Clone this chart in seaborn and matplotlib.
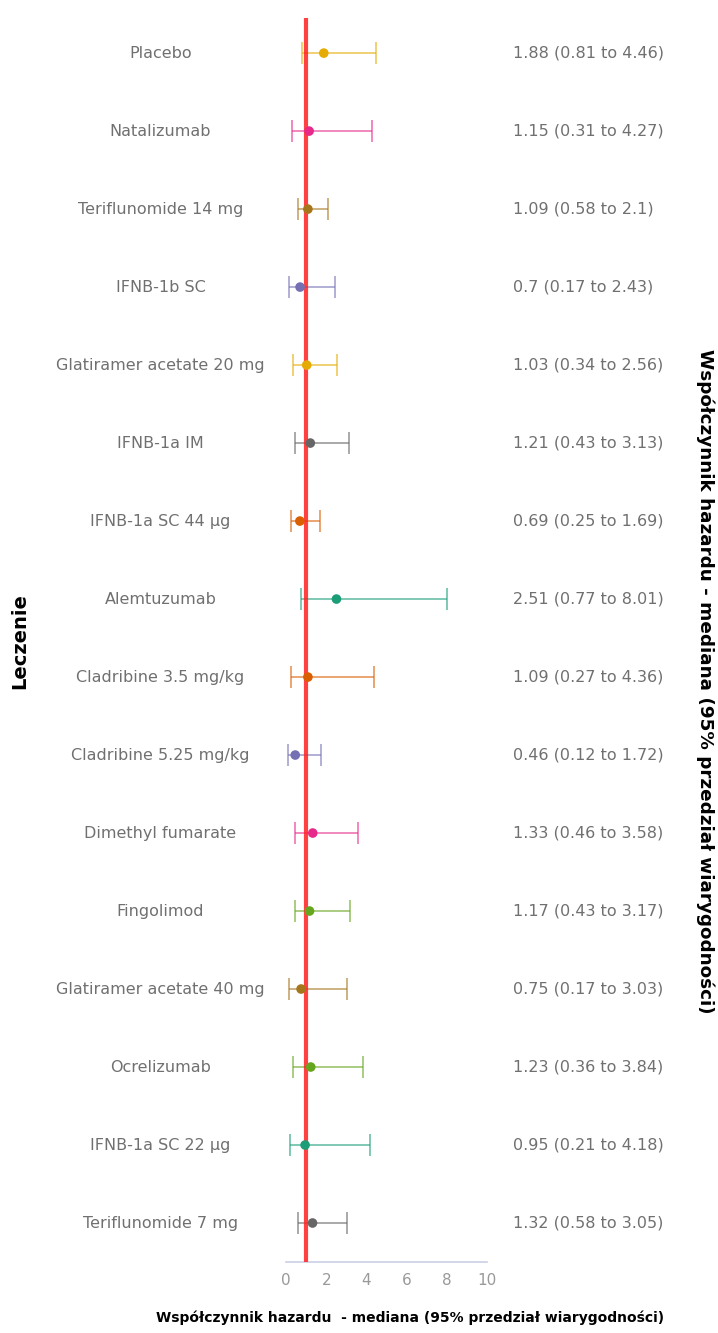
import numpy as np
import pandas as pd
import matplotlib
matplotlib.use("Agg")
import matplotlib.pyplot as plt
import matplotlib.transforms as mtransforms
import seaborn as sns

treatments = [
    "Placebo", "Natalizumab", "Teriflunomide 14 mg", "IFNB-1b SC",
    "Glatiramer acetate 20 mg", "IFNB-1a IM", "IFNB-1a SC 44 µg", "Alemtuzumab",
    "Cladribine 3.5 mg/kg", "Cladribine 5.25 mg/kg", "Dimethyl fumarate",
    "Fingolimod", "Glatiramer acetate 40 mg", "Ocrelizumab",
    "IFNB-1a SC 22 µg", "Teriflunomide 7 mg",
]
median = [1.88, 1.15, 1.09, 0.7, 1.03, 1.21, 0.69, 2.51,
          1.09, 0.46, 1.33, 1.17, 0.75, 1.23, 0.95, 1.32]
lower = [0.81, 0.31, 0.58, 0.17, 0.34, 0.43, 0.25, 0.77,
         0.27, 0.12, 0.46, 0.43, 0.17, 0.36, 0.21, 0.58]
upper = [4.46, 4.27, 2.1, 2.43, 2.56, 3.13, 1.69, 8.01,
         4.36, 1.72, 3.58, 3.17, 3.03, 3.84, 4.18, 3.05]
colors = ["#e6ab02", "#e7298a", "#a6761d", "#7570b3", "#e6ab02", "#666666",
          "#d95f02", "#1b9e77", "#d95f02", "#7570b3", "#e7298a", "#66a61e",
          "#a6761d", "#66a61e", "#1b9e77", "#666666"]
xticks = [0, 2, 4, 6, 8, 10]

df = pd.DataFrame({"treatment": treatments, "median": median,
                   "lower": lower, "upper": upper})
df["row"] = np.arange(len(df))

sns.set_theme(style="white")
plt.rcParams["font.family"] = ["DejaVu Sans"]

fig = plt.figure(figsize=(7.18, 13.33), dpi=100)
ax = fig.add_axes([286 / 718, 1 - 1262 / 1333, 201 / 718, (1262 - 18) / 1333])

# credible intervals
for i, r in df.iterrows():
    ax.errorbar(r["median"], r["row"],
                xerr=[[r["median"] - r["lower"]], [r["upper"] - r["median"]]],
                fmt="none", ecolor=colors[i], alpha=0.6, elinewidth=1.3,
                capsize=8, capthick=1.3, zorder=2)

# no-effect reference line
ax.axvline(1, color="#ff2020", lw=3, alpha=0.85, zorder=3)

# medians
sns.scatterplot(data=df, x="median", y="row", hue="treatment",
                palette=colors, s=48, edgecolor="none", legend=False,
                ax=ax, zorder=4)

ax.set_xlim(0, 10)
ax.set_ylim(15.5, -0.45)
ax.set_xticks(xticks)
ax.set_xticklabels([str(t) for t in xticks], color="#999999", fontsize=11)
ax.tick_params(axis="x", length=0, pad=8)
ax.set_yticks([])
ax.set_xlabel("")
ax.set_ylabel("")
for s in ["top", "right", "left"]:
    ax.spines[s].set_visible(False)
ax.spines["bottom"].set_color("#c9d1e3")
ax.spines["bottom"].set_linewidth(1.2)

trans = mtransforms.blended_transform_factory(ax.transAxes, ax.transData)
for i, r in df.iterrows():
    ax.text((160.5 - 286) / 201, r["row"], r["treatment"], transform=trans,
            ha="center", va="center", fontsize=11.5, color="#707070")
    ax.text((513 - 286) / 201, r["row"],
            f"{r['median']:g} ({r['lower']:g} to {r['upper']:g})",
            transform=trans, ha="left", va="center", fontsize=11.5,
            color="#707070")

fig.text(20 / 718, 1 - 641 / 1333, "Leczenie", rotation=90, ha="center",
         va="center", fontsize=14, fontweight="bold", color="black")
fig.text(705 / 718, 1 - 681 / 1333,
         "Współczynnik hazardu - mediana (95% przedział wiarygodności)",
         rotation=-90, ha="center", va="center", fontsize=13.2,
         fontweight="bold", color="black")
fig.text(410 / 718, 1 - 1318 / 1333,
         "Współczynnik hazardu  - mediana (95% przedział wiarygodności)",
         ha="center", va="center", fontsize=10, fontweight="bold",
         color="black")

fig.savefig("out.png", dpi=100, facecolor="white")
